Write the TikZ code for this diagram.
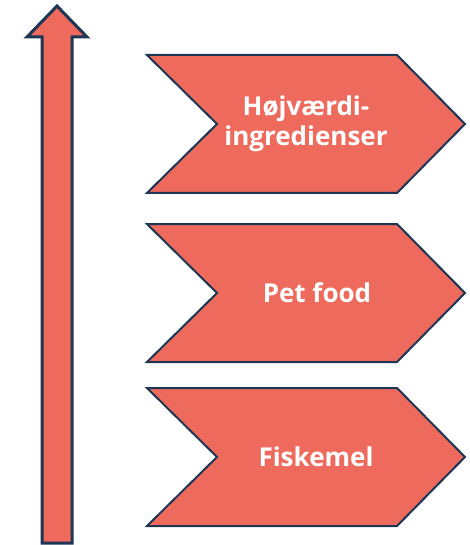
\documentclass[tikz,border=0pt]{standalone}
\usepackage{fontspec}
\setmainfont{Open Sans}
\definecolor{salmon}{RGB}{238,106,92}
\definecolor{navy}{RGB}{28,54,84}
\tikzset{
    chev/.style={fill=salmon, draw=navy, line width=2pt, line join=miter},
    lbl/.style={text=white, font=\fontsize{26}{30}\selectfont\bfseries, align=center},
}

\begin{document}
\begin{tikzpicture}[x=1pt, y=-1pt]
        \useasboundingbox (0,0) rectangle (470,545);
        % upward arrow
        \draw[chev, line width=3pt] (57,6) -- (87,37) -- (72,37) -- (72,543) -- (42,543) -- (42,37) -- (27,37) -- cycle;
        % chevrons
        \foreach \t in {55,224,388}
            \draw[chev] (147,\t) -- (397,\t) -- (465,\t+69) -- (397,\t+138) -- (147,\t+138) -- (217,\t+69) -- cycle;
        \node[lbl] (hoj) at (306,124) {Højværdi-\\ingredienser};
        \node[lbl] (pet) at (317,293) {Pet food};
        \node[lbl] (fisk) at (316,457) {Fiskemel};
\end{tikzpicture}
\end{document}
